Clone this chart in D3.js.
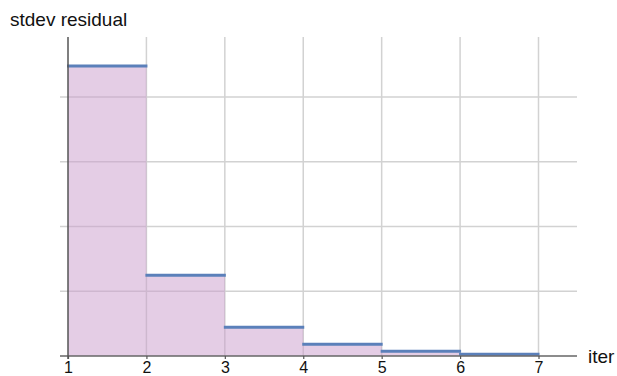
<!DOCTYPE html>
<html>
<head>
<meta charset="utf-8">
<script src="https://cdn.jsdelivr.net/npm/d3@7"></script>
<style>
  html, body { margin: 0; padding: 0; background: #fff; }
  svg { display: block; font-family: "Liberation Sans", Arial, Helvetica, sans-serif; }
</style>
</head>
<body>
<svg id="chart" width="617" height="376"></svg>
<script>
// Iteration steps (each value holds from its iter to the next one)
const iterStart = [1, 2, 3, 4, 5, 6];
const iterEnd = [2, 3, 4, 5, 6, 7];
const stdevResidual = [4.48, 1.247, 0.444, 0.181, 0.073, 0.026];
const xTicks = [1, 2, 3, 4, 5, 6, 7];
const yGrid = [1, 2, 3, 4];

const svg = d3.select("#chart");

const x = d3.scaleLinear().domain([1, 7]).range([68, 538.5]);
const y = d3.scaleLinear().domain([0, 4]).range([356, 97]);

const plotTop = 37, plotLeft = 60, plotRight = 577;

// grid
const grid = svg.append("g");
grid.selectAll("line.v").data(xTicks.slice(1)).join("line")
  .attr("x1", d => x(d)).attr("x2", d => x(d))
  .attr("y1", plotTop).attr("y2", y(0))
  .attr("stroke", "#d2d2d2").attr("stroke-width", 1.5);
grid.selectAll("line.h").data(yGrid).join("line")
  .attr("x1", plotLeft).attr("x2", plotRight)
  .attr("y1", d => y(d)).attr("y2", d => y(d))
  .attr("stroke", "#d2d2d2").attr("stroke-width", 1.5);

// filled steps
const steps = iterStart.map((s, i) => ({ s, e: iterEnd[i], v: stdevResidual[i] }));
svg.append("g").selectAll("rect").data(steps).join("rect")
  .attr("x", d => x(d.s)).attr("width", d => x(d.e) - x(d.s))
  .attr("y", d => y(d.v)).attr("height", d => y(0) - y(d.v))
  .attr("fill", "#c99ccb").attr("fill-opacity", 0.5);

// step tops
svg.append("g").selectAll("line").data(steps).join("line")
  .attr("x1", d => x(d.s) - 1).attr("x2", d => x(d.e) + 1)
  .attr("y1", d => y(d.v)).attr("y2", d => y(d.v))
  .attr("stroke", "#5b80ba").attr("stroke-width", 3);

// axes
svg.append("line")
  .attr("x1", plotLeft).attr("x2", plotRight)
  .attr("y1", y(0)).attr("y2", y(0))
  .attr("stroke", "#666").attr("stroke-width", 1.5);
svg.append("line")
  .attr("x1", x(1)).attr("x2", x(1))
  .attr("y1", plotTop).attr("y2", y(0) + 3)
  .attr("stroke", "#555").attr("stroke-width", 1.5);

const xAxis = d3.axisBottom(x).tickValues(xTicks).tickFormat(d3.format("d")).tickSize(3).tickPadding(3);
const gx = svg.append("g").attr("transform", `translate(0,${y(0)})`).call(xAxis);
gx.select(".domain").remove();
gx.selectAll(".tick line").attr("stroke", "#555").attr("stroke-width", 1.2);
gx.selectAll(".tick text").attr("font-size", 16).attr("fill", "#111")
  .attr("font-family", "Liberation Sans, Arial, sans-serif");

svg.append("text").attr("x", 10).attr("y", 26).attr("font-size", 19).attr("fill", "#111")
  .text("stdev residual");
svg.append("text").attr("x", 588).attr("y", 363).attr("font-size", 19).attr("fill", "#111")
  .text("iter");
</script>
</body>
</html>
